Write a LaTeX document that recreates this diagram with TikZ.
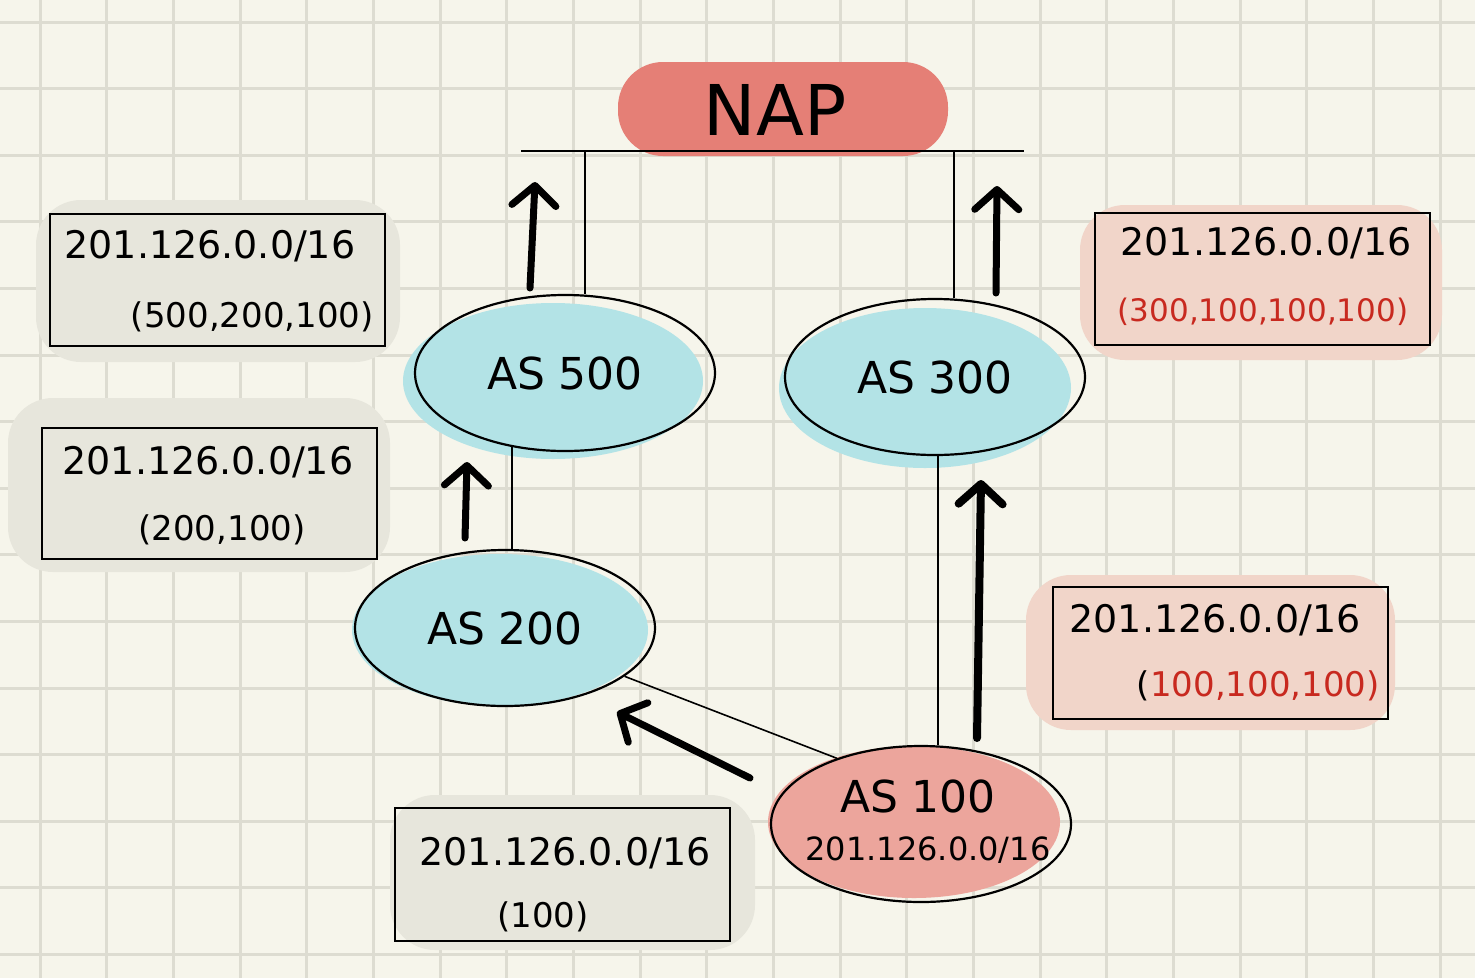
\documentclass[tikz,border=0pt]{standalone}
\usepackage{fontspec}
\setmainfont{DejaVu Sans}
\usetikzlibrary{shapes.geometric,arrows.meta,calc}
\definecolor{bg}{HTML}{F6F5EB}
\definecolor{gridc}{HTML}{DDDCD1}
\definecolor{cyanfill}{HTML}{B3E3E6}
\definecolor{napred}{HTML}{E57F76}
\definecolor{asred}{HTML}{ECA59C}
\definecolor{pinkbox}{HTML}{F1D5C9}
\definecolor{graybox}{HTML}{E7E6DC}
\definecolor{redtxt}{HTML}{C8291F}
\tikzset{
  asnode/.style={ellipse,draw=black,line width=2.2pt,minimum width=300pt,minimum height=156pt,inner sep=0pt,font=\fontsize{44}{48}\selectfont},
  boxnode/.style={draw=black,line width=2pt,inner sep=0pt,minimum width=335pt,minimum height=132pt},
  blob/.style={rounded corners=45pt},
  link/.style={line width=1.6pt},
  bigarrow/.style={line width=7pt,line cap=round,-{Straight Barb[length=20pt,width=44pt,line cap=round,line join=round]}},
  boxtxt/.style={font=\fontsize{34}{36}\selectfont,inner sep=0pt},
  boxtop/.style={font=\fontsize{38}{40}\selectfont,inner sep=0pt},
}
\begin{document}
\begin{tikzpicture}[x=1pt,y=-1pt]
\useasboundingbox (0,0) rectangle (1475,978);
\fill[bg] (0,0) rectangle (1475,978);
% grid
\foreach \i in {0,...,21} {\draw[gridc,line width=3pt] ({40+66.67*\i},0) -- ({40+66.67*\i},978);}
\foreach \j in {0,...,14} {\draw[gridc,line width=3pt] (0,{22+66.6*\j}) -- (1475,{22+66.6*\j});}
% blobs
\fill[napred,blob] (618,62) rectangle (948,156);
\fill[graybox,blob] (36,200) rectangle (400,362);
\fill[graybox,blob] (8,398) rectangle (390,572);
\fill[pinkbox,blob] (1080,205) rectangle (1442,360);
\fill[pinkbox,blob] (1026,575) rectangle (1395,730);
\fill[graybox,blob] (390,795) rectangle (755,950);
\fill[cyanfill] (553,381) ellipse [x radius=150pt,y radius=78pt];
\fill[cyanfill] (925,388) ellipse [x radius=146pt,y radius=80pt];
\fill[cyanfill] (500,630) ellipse [x radius=148pt,y radius=76pt];
\fill[asred] (914,822) ellipse [x radius=146pt,y radius=76pt];
% NAP
\node[font=\fontsize{70}{72}\selectfont,inner sep=0pt] (nap) at (775,110) {NAP};
\coordinate (busl) at (521,151);
\coordinate (busr) at (1024,151);
\draw[link] (busl) -- (busr);
% AS nodes
\node[asnode] (as500) at (565,373) {AS 500};
\node[asnode] (as300) at (935,377) {AS 300};
\node[asnode] (as200) at (505,628) {AS 200};
\node[asnode] (as100) at (921,824) {};
\node[font=\fontsize{44}{44}\selectfont,inner sep=0pt] (as100a) at (918,796) {AS 100};
\node[font=\fontsize{32}{36}\selectfont,inner sep=0pt] (as100b) at (928,850) {201.126.0.0/16};
% connectors
\coordinate (b5) at (585,151);
\coordinate (b3) at (954,151);
\draw[link] (b5) -- (b5 |- as500.north);
\draw[link] (b3) -- (b3 |- as300.north);
\coordinate (x512) at (512,0);
\draw[link] ($(x512 |- as500.south)+(0,-5)$) -- (x512 |- as200.north);
\coordinate (x938) at (938,0);
\draw[link] (x938 |- as300.south) -- (x938 |- as100.north);
\draw[link] (as200.-22) -- (as100.142);
% arrows
\coordinate (a1s) at (530,288); \coordinate (a1e) at (535,182);
\coordinate (a2s) at (996,293); \coordinate (a2e) at (997,186);
\coordinate (a3s) at (465,538); \coordinate (a3e) at (467,462);
\coordinate (a4s) at (977,738); \coordinate (a4e) at (981,480);
\coordinate (a5s) at (750,778); \coordinate (a5e) at (617,712);
\draw[bigarrow] (a1s) -- (a1e);
\draw[bigarrow] (a2s) -- (a2e);
\draw[bigarrow] (a3s) -- (a3e);
\draw[bigarrow,line width=8pt] (a4s) -- (a4e);
\draw[bigarrow] (a5s) -- (a5e);
% boxes
\node[boxnode] (box1) at (217.5,279.5) {};
\node[boxnode,minimum height=131pt] (box2) at (209.5,493.5) {};
\node[boxnode] (box3) at (1262.5,279) {};
\node[boxnode] (box4) at (1220.5,653) {};
\node[boxnode,minimum height=133pt] (box5) at (562.5,874.5) {};
\node[boxtop] (t1a) at (210,246) {201.126.0.0/16};
\node[boxtxt,anchor=east] (t1b) at (374,317) {(500,200,100)};
\node[boxtop] (t2a) at (208,462) {201.126.0.0/16};
\node[boxtxt] (t2b) at (222,530) {(200,100)};
\node[boxtop] (t3a) at (1266,243) {201.126.0.0/16};
\node[boxtxt,font=\fontsize{31}{34}\selectfont,text=redtxt] (t3b) at (1263,312) {(300,100,100,100)};
\node[boxtop] (t4a) at (1215,620) {201.126.0.0/16};
\node[boxtxt,anchor=east] (t4b) at (1380,686) {(\textcolor{redtxt}{100,100,100)}};
\node[boxtop] (t5a) at (565,853) {201.126.0.0/16};
\node[boxtxt] (t5b) at (543,917) {(100)};
\end{tikzpicture}
\end{document}
